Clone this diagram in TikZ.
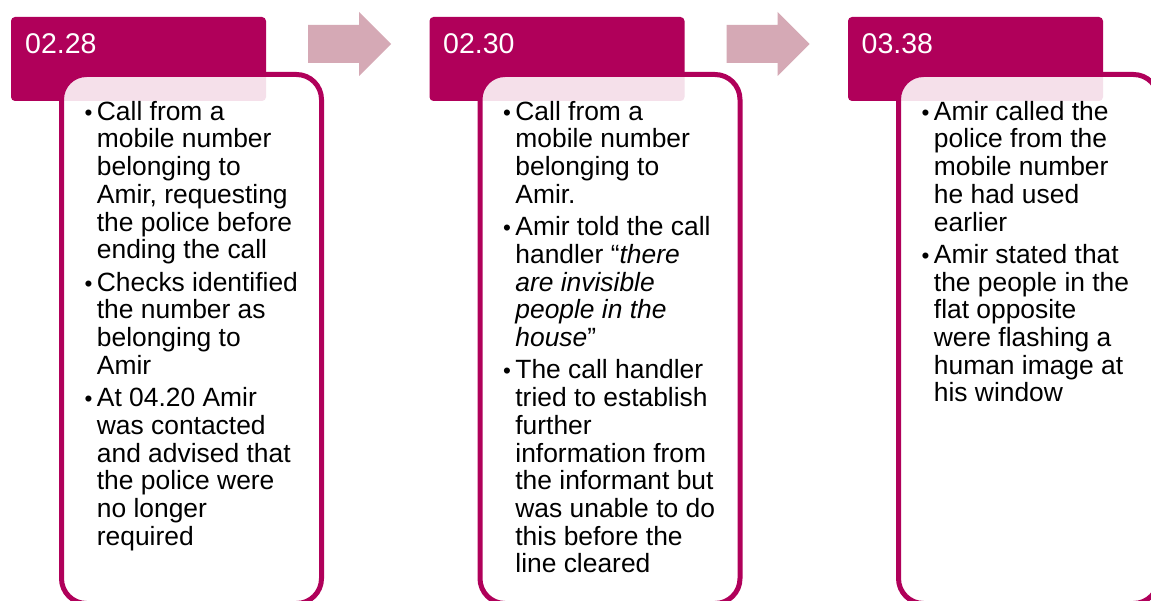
\documentclass[tikz,border=0pt]{standalone}
\usepackage{fontspec}
\setmainfont{Liberation Sans}
\definecolor{mag}{HTML}{B0005A}
\definecolor{arr}{HTML}{D5A9B5}
\tikzset{
 hdr/.style={fill=mag, rounded corners=4pt, minimum width=255pt, minimum height=84pt, anchor=north west, inner sep=0pt, outer sep=0pt},
 bodybox/.style={draw=mag, line width=5pt, fill=white, fill opacity=0.88, rounded corners=25pt, minimum width=260pt, minimum height=529pt, anchor=north west, inner sep=0pt, outer sep=0pt},
 htxt/.style={text=white, font=\fontsize{28.5}{32}\selectfont, anchor=base west, inner sep=0pt},
 btxt/.style={text=black, font=\fontsize{26.4}{27.7}\selectfont, align=left, anchor=north west, inner sep=0pt},
 blockarrow/.style={fill=arr}
}
\newcommand{\bitem}{\llap{\scalebox{0.85}{\textbullet}\hspace{4.5pt}}}
\newcommand{\firstl}{\rule{0pt}{22pt}}
\begin{document}
\begin{tikzpicture}[x=1pt,y=-1pt]
\useasboundingbox (0,0) rectangle (1151,601);
\clip (0,0) rectangle (1151,601);
\fill[white] (0,0) rectangle (1151,601);
% arrows
\fill[blockarrow] (308,25) -- (359,25) -- (359,12) -- (391,44) -- (359,76) -- (359,63) -- (308,63) -- cycle;
\fill[blockarrow] (726.5,25) -- (777.5,25) -- (777.5,12) -- (809.5,44) -- (777.5,76) -- (777.5,63) -- (726.5,63) -- cycle;
% column 1
\node[hdr] (h1) at (11,17) {};
\node[bodybox] (b1) at (61.5,74.5) {};
\node[htxt] (t1) at (25,54) {02.28};
\node[btxt] (x1) at (96.7,98) {\firstl\bitem Call from a\\
mobile number\\
belonging to\\
Amir, requesting\\
the police before\\
ending the call\\[4.7pt]
\bitem Checks identified\\
the number as\\
belonging to\\
Amir\\[4.7pt]
\bitem At 04.20 Amir\\
was contacted\\
and advised that\\
the police were\\
no longer\\
required};
% column 2
\node[hdr] (h2) at (429.5,17) {};
\node[bodybox] (b2) at (480,74.5) {};
\node[htxt] (t2) at (443,54) {02.30};
\node[btxt] (x2) at (515.2,98) {\firstl\bitem Call from a\\
mobile number\\
belonging to\\
Amir.\\[4.7pt]
\bitem Amir told the call\\
handler “\textit{there}\\
\textit{are invisible}\\
\textit{people in the}\\
\textit{house}”\\[4.7pt]
\bitem The call handler\\
tried to establish\\
further\\
information from\\
the informant but\\
was unable to do\\
this before the\\
line cleared};
% column 3
\node[hdr] (h3) at (848,17) {};
\node[bodybox] (b3) at (898.5,74.5) {};
\node[htxt] (t3) at (861.5,54) {03.38};
\node[btxt] (x3) at (933.7,98) {\firstl\bitem Amir called the\\
police from the\\
mobile number\\
he had used\\
earlier\\[4.7pt]
\bitem Amir stated that\\
the people in the\\
flat opposite\\
were flashing a\\
human image at\\
his window};
\end{tikzpicture}
\end{document}
